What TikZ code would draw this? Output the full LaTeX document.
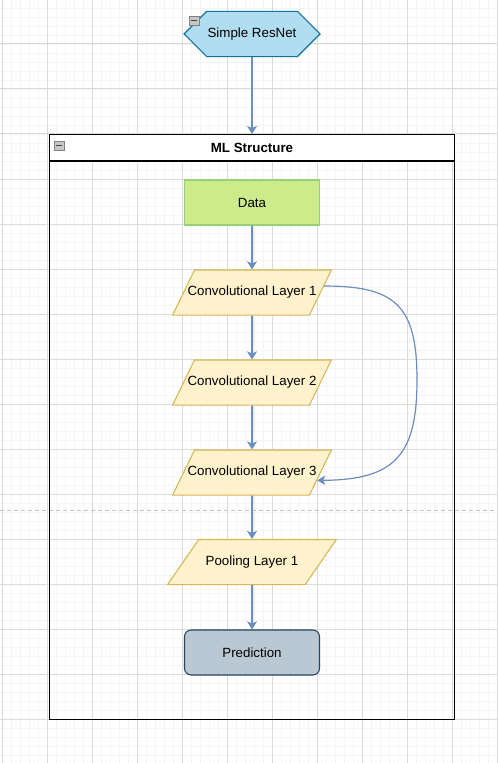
\documentclass[tikz,border=0pt]{standalone}
\usepackage{fontspec}
\setmainfont{Liberation Sans}
\usepackage{tikz}
\usetikzlibrary{shapes.geometric, shapes.symbols, arrows.meta, calc}
\definecolor{hexfill}{RGB}{177, 221, 240}
\definecolor{hexdraw}{RGB}{16, 115, 158}
\definecolor{datafill}{RGB}{205, 235, 139}
\definecolor{datadraw}{RGB}{151, 208, 119}
\definecolor{convfill}{RGB}{255, 242, 204}
\definecolor{convdraw}{RGB}{214, 182, 86}
\definecolor{predfill}{RGB}{186, 200, 211}
\definecolor{preddraw}{RGB}{35, 68, 93}
\definecolor{linkcolor}{RGB}{108, 142, 191}
\definecolor{gridmajor}{RGB}{218, 218, 218}
\definecolor{gridminor}{RGB}{244, 244, 244}
\definecolor{breakcolor}{RGB}{195, 195, 195}
\tikzstyle{hexbox} = [signal, signal to=east and west, signal pointer angle=90, minimum width=102pt, minimum height=34pt, inner sep=0pt, text centered, draw=hexdraw, fill=hexfill, line width=0.8pt]
\tikzstyle{databox} = [rectangle, minimum width=101.25pt, minimum height=33.75pt, text centered, draw=datadraw, fill=datafill, line width=0.8pt]
\tikzstyle{convlayer} = [trapezium, trapezium left angle=64, trapezium right angle=116, trapezium stretches=true, minimum width=119pt, text height=7pt, text depth=2pt, inner xsep=-5.3pt, inner ysep=12.4pt, text centered, draw=convdraw, fill=convfill, line width=0.8pt]
\tikzstyle{poollayer} = [convlayer, trapezium left angle=63, trapezium right angle=117, minimum width=126.75pt]
\tikzstyle{predbox} = [rectangle, rounded corners=5pt, minimum width=101.25pt, minimum height=33.75pt, text centered, draw=preddraw, fill=predfill, line width=0.8pt]
\tikzstyle{mlframe} = [rectangle, draw=black, line width=0.8pt, minimum width=303.75pt, minimum height=438.5pt]
\tikzstyle{mltitle} = [rectangle, draw=black, fill=white, line width=0.8pt, minimum width=303.75pt, minimum height=19.9pt, font=\fontsize{10}{12}\selectfont\bfseries]
\tikzstyle{iconbox} = [draw=black!50, fill=black!22, line width=0.5pt]
\tikzstyle{iconminus} = [draw=black!75, line width=0.9pt]
\tikzstyle{arrow} = [draw=linkcolor, line width=1.5pt, -{Stealth[length=6pt, width=7.5pt, inset=1.5pt]}]
\tikzstyle{skiparrow} = [draw=linkcolor, line width=0.9pt, -{Stealth[length=6pt, width=7pt, inset=1.5pt]}]
\begin{document}
\begin{tikzpicture}[x=0.75pt, y=-0.75pt, every node/.style={font=\fontsize{10}{12}\selectfont}]
\useasboundingbox (0,0) rectangle (497,763);

% Fond - grille
\foreach \x in {2,11,...,497} \draw[gridminor, line width=0.6pt] (\x,0) -- (\x,763);
\foreach \y in {8,17,...,763} \draw[gridminor, line width=0.6pt] (0,\y) -- (497,\y);
\foreach \x in {2,47,...,497} \draw[gridmajor, line width=0.75pt] (\x,0) -- (\x,763);
\foreach \y in {44,89,...,763} \draw[gridmajor, line width=0.75pt] (0,\y) -- (497,\y);
\draw[breakcolor, line width=0.75pt, dash pattern=on 3pt off 2.25pt] (0,510) -- (497,510);

% Haut
\node (hexnet) [hexbox] at (252,34) {Simple ResNet};
\draw[iconbox] (189,16) rectangle (199,25);
\draw[iconminus] (191,20.5) -- (197,20.5);

% Conteneur
\node (mlbox) [mlframe] at (252,427) {};
\node (mlhead) [mltitle] at (252,147.75) {ML Structure};
\draw[iconbox] (54,141) rectangle (64,150);
\draw[iconminus] (56,145.5) -- (62,145.5);

% Couches
\node (data) [databox] at (252,202.5) {Data};
\node (conv1) [convlayer] at (252,292.5) {Convolutional Layer 1};
\node (conv2) [convlayer] at (252,382.5) {Convolutional Layer 2};
\node (conv3) [convlayer] at (252,472.5) {Convolutional Layer 3};
\node (pool) [poollayer] at (252,562) {Pooling Layer 1};
\node (pred) [predbox] at (252,652.5) {Prediction};

% Flèches
\draw [arrow] (hexnet.south) -- (mlhead.north);
\draw [arrow] (data) -- (conv1);
\draw [arrow] (conv1) -- (conv2);
\draw [arrow] (conv2) -- (conv3);
\draw [arrow] (conv3) -- (pool);
\draw [arrow] (pool) -- (pred);
\draw [skiparrow] ($(conv1.top right corner)!0.36!(conv1.bottom right corner)$) .. controls (395,286) and (417,305) .. (417,380) .. controls (417,455) and (395,480) .. ($(conv3.top right corner)!0.67!(conv3.bottom right corner)$);

\end{tikzpicture}
\end{document}
